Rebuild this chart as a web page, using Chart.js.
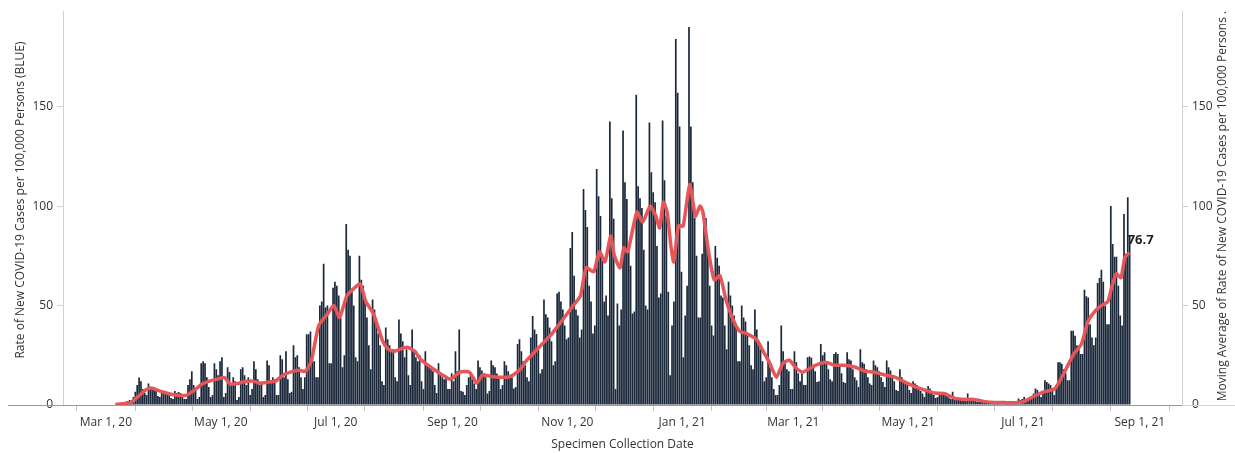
<!DOCTYPE html>
<html>
<head>
<meta charset="utf-8">
<script src="https://cdn.jsdelivr.net/npm/chart.js@4.4.0/dist/chart.umd.min.js"></script>
<style>
  html, body { margin: 0; padding: 0; background: #fff; }
  #wrap { width: 1235px; height: 453px; position: relative; }
</style>
</head>
<body>
<div id="wrap"><canvas id="covidChart" width="1235" height="453"></canvas></div>
<script>
// Day numbers count from Sun Mar 1, 2020 (= day 0)
const tickDays   = [0, 31, 61, 92, 122, 153, 184, 214, 245, 275, 306, 337, 365, 396, 426, 457, 487, 518, 549];
const tickLabels = ['Mar 1, 20', '', 'May 1, 20', '', 'Jul 1, 20', '', 'Sep 1, 20', '', 'Nov 1, 20', '',
                    'Jan 1, 21', '', 'Mar 1, 21', '', 'May 1, 21', '', 'Jul 1, 21', '', 'Sep 1, 21'];
const yTicks = [0, 50, 100, 150];

// Daily rate per 100,000 (bars), one row per week Sun..Sat, from Mar 1, 2020
const dailyRate = [
  0, 0, 0, 0, 0, 0.3, 0.5,
  0.8, 1, 1.2, 1.5, 2, 2.5, 2,
  4, 6.6, 10, 13.8, 12, 8, 6,
  5, 10.8, 8.8, 8, 7.5, 7, 4.5,
  4, 7, 6, 6.5, 6, 6, 3.5,
  3, 7, 6, 6.5, 6, 5.5, 3,
  3, 10, 13, 17, 10, 7, 3,
  4, 21, 22, 21, 14, 9, 4,
  5, 21, 18, 15, 22, 24, 4,
  6, 19, 16.6, 10.8, 14, 12, 2.5,
  4, 18, 19, 15, 10, 14, 5,
  8, 22, 18, 13, 10, 11, 4,
  5, 22.4, 20, 12.4, 14, 13, 5,
  5, 25, 23, 14, 27, 13, 6,
  6.6, 30, 24, 25, 19, 14, 8,
  14, 35.6, 35.6, 37, 25, 22, 14,
  14, 50, 52, 71, 49, 50, 21,
  21, 59, 62, 60, 55, 44, 19,
  25, 91, 78, 75, 57, 50, 24,
  22, 75, 63, 60, 52, 44, 30,
  18, 53, 48, 42, 36, 30, 12,
  10, 39, 33, 30, 27, 28, 14,
  12, 43, 36, 32, 24, 28, 15,
  10, 38, 27, 24, 22, 25, 12,
  8, 27, 21, 19, 18, 17, 10,
  6, 21, 16, 14, 13, 14, 8,
  8, 16, 12, 27, 17, 38, 7,
  6.6, 5, 10, 14, 15, 13, 10.8,
  8, 22.4, 19, 17.4, 16, 14, 5.8,
  7, 22.4, 20, 19, 15.8, 14, 8,
  10, 22, 20, 17, 15, 14, 8.3,
  9, 30.7, 33, 27, 22, 20, 14,
  12, 34, 44.8, 38, 35.7, 28, 15.8,
  18, 53, 45.6, 44, 39, 32, 20,
  22, 56, 57, 52, 48, 40, 33,
  34, 79, 87, 65, 48, 45, 34,
  38, 108.6, 98, 89.5, 60, 52, 36,
  40, 118.6, 105, 95, 76, 52, 55,
  45, 142.6, 104, 93.7, 8, 51, 40,
  48, 138, 112, 103.6, 77, 70, 46,
  47, 156, 110, 104, 99, 78, 50,
  48, 142, 117, 107, 102, 80, 54,
  56, 143, 113, 95, 57, 15, 40,
  52, 184, 157, 140, 67, 24, 45,
  60, 190, 140, 112, 94, 75, 44,
  44, 76, 94, 94, 77, 60, 40,
  35, 80, 74, 70, 55, 54, 40,
  28, 62, 55, 50, 45, 40, 22,
  22, 50, 44, 42, 36, 30, 20,
  18, 48, 38, 32, 28, 22, 12,
  14, 32, 19, 14, 8, 5, 5,
  10, 40, 27, 21, 18, 17, 8,
  8, 27, 21.5, 16, 12, 15.8, 10,
  10, 24, 24.4, 23.7, 20, 17, 11.6,
  12, 30.7, 25, 26.5, 22, 18, 13,
  12, 25.7, 26.5, 25.7, 20, 16, 11.6,
  11, 26.5, 23, 22.4, 18, 14, 12.4,
  9, 28, 21.5, 20.7, 18, 14, 10.8,
  10, 22.4, 20, 19, 17, 14, 11.6,
  9, 22.4, 19, 17.4, 15, 12, 7.5,
  7, 18, 14, 11.6, 12, 10, 7.5,
  6, 12, 10.8, 10, 8, 7, 5.8,
  4, 7.5, 9.5, 8.3, 6, 5, 3.5,
  4, 5.8, 5.8, 5, 5.5, 4.5, 3.8,
  3, 6.6, 3.3, 4, 3.5, 3, 2,
  2, 3, 5.8, 3, 3, 2.5, 2,
  1.5, 2.5, 2, 2, 1.8, 1.5, 1,
  1, 1.8, 1.5, 1.3, 1.2, 1, 0.8,
  1, 2, 1.5, 1.5, 1.2, 1, 0.8,
  1.5, 3.3, 2.5, 3, 4, 3, 2,
  3, 4, 5.8, 8.3, 7.5, 6, 4,
  6, 12.4, 11.6, 10.8, 10, 8, 5,
  10, 21.5, 21.5, 20.7, 18, 16, 12.4,
  12.4, 37.3, 37.3, 34.8, 30, 28, 25.7,
  25.7, 58, 54.7, 54, 40.6, 34, 30,
  34, 61.4, 63.8, 68, 62, 50, 40.6,
  40.6, 100, 81, 74.6, 74.6, 60, 45,
  40, 96, 76, 104.5, 85
];

// Moving average (red line) at these days
const maDays = [
  5, 10, 13, 15, 18, 21, 24, 28, 32, 36, 40, 43, 47, 51, 55, 59, 63, 66, 70, 74,
  78, 82, 86, 90, 94, 98, 102, 106, 109, 113, 117, 121, 124, 128, 131, 135, 138, 142, 147, 150,
  153, 156, 160, 164, 167, 171, 174, 178, 183, 188, 193, 197, 200, 204, 209, 213, 216, 220, 223, 227,
  230, 234, 237, 241, 245, 249, 252, 255, 259, 262, 265, 268, 270, 273, 275, 277, 279, 282, 285, 289,
  292, 294, 296, 298, 300, 301.5, 304, 306.5, 310, 313, 315.5, 317, 320, 323, 326, 329.5, 333, 336.5, 340, 342,
  345.5, 349, 352.5, 356, 359.5, 363, 366, 370, 373, 377, 382, 387, 392, 398, 403, 408, 414, 419, 424, 430,
  435, 440, 445, 451, 456, 461, 467, 472, 477, 483, 488, 493, 498, 504, 509, 514, 518, 521.5, 525, 528.5,
  532, 534, 536.5, 539, 541, 543.6
];
const maValues = [
  0.2, 0.8, 1.2, 2.5, 5, 7.5, 8.5, 7.2, 6, 5.2, 4.8, 5, 7.5, 10.5, 12, 13, 13.8, 10.5, 10.8, 11.8,
  12, 11, 11.5, 12, 15, 16.5, 17.5, 17, 22, 40, 45, 50, 44, 55, 58, 61, 52, 46, 32, 28,
  27, 28, 29, 27, 23, 20, 18, 15.5, 13, 16.5, 16.5, 11, 15, 14.5, 14, 14, 15, 18, 22, 26,
  29, 33, 36, 41, 46, 51, 55, 69, 67, 77, 72, 85, 75, 69, 79, 77, 85, 97, 92, 100,
  95, 89, 102, 97, 80, 72, 90, 90, 111, 95, 100, 97, 77, 63, 65, 52, 43, 37, 36, 35,
  33, 27, 21, 14, 21, 22.5, 19, 16.5, 18, 20, 21.5, 20, 20, 19, 17, 16.5, 15, 14, 11.6, 9,
  7.5, 6, 5.8, 3.3, 2.8, 2.8, 1.7, 1.3, 1.2, 1.1, 2, 4.5, 6.6, 8.3, 16.6, 25.7, 30.6, 42, 47, 50,
  52, 59, 66, 64, 74, 76.7
];

const FONT = "'Open Sans', 'DejaVu Sans', sans-serif";
const BAR_OFFSET = 0.6; // bars sit at midday of their date

const barPoints = dailyRate.map((v, i) => ({ x: i + BAR_OFFSET, y: v }));
const maPoints = maDays.map((d, i) => ({ x: d, y: maValues[i] }));

const overlay = {
  id: 'overlay',
  afterDraw(chart) {
    const ctx = chart.ctx;
    const area = chart.chartArea;
    ctx.save();
    // zero line running past the axes
    ctx.strokeStyle = '#9a9a9a';
    ctx.lineWidth = 1;
    ctx.beginPath();
    ctx.moveTo(8, area.bottom + 0.5);
    ctx.lineTo(area.right, area.bottom + 0.5);
    ctx.stroke();
    ctx.strokeStyle = '#d6d6d6';
    ctx.beginPath();
    ctx.moveTo(area.right, area.bottom + 0.5);
    ctx.lineTo(1235, area.bottom + 0.5);
    ctx.stroke();

    ctx.fillStyle = '#333';
    ctx.font = '12px ' + FONT;
    ctx.textAlign = 'center';
    ctx.textBaseline = 'middle';
    ctx.fillText('Specimen Collection Date', (area.left + area.right) / 2, 445);

    ctx.save();
    ctx.translate(21, 200);
    ctx.rotate(-Math.PI / 2);
    ctx.fillText('Rate of New COVID-19 Cases per 100,000 Persons (BLUE)', 0, 0);
    ctx.restore();

    ctx.save();
    ctx.translate(1223, 206);
    ctx.rotate(-Math.PI / 2);
    ctx.fillText('Moving Average of Rate of New COVID-19 Cases per 100,000 Persons .', 0, 0);
    ctx.restore();

    // end label of the moving average
    const pts = chart.getDatasetMeta(0).data;
    const last = pts[pts.length - 1];
    ctx.font = 'bold 13px ' + FONT;
    ctx.fillStyle = '#222';
    ctx.textAlign = 'left';
    ctx.fillText(String(maValues[maValues.length - 1]), last.x - 2, last.y - 12);
    ctx.restore();
  }
};

const tickFont = { family: FONT, size: 12 };

new Chart(document.getElementById('covidChart'), {
  type: 'bar',
  data: {
    datasets: [
      {
        type: 'line',
        data: maPoints,
        yAxisID: 'y2',
        borderColor: '#e65557',
        borderWidth: 3.5,
        pointRadius: 0,
        tension: 0.2,
        fill: false,
        order: 0
      },
      {
        type: 'bar',
        data: barPoints,
        yAxisID: 'y',
        backgroundColor: '#1a283a',
        borderWidth: 0,
        barPercentage: 0.9,
        categoryPercentage: 1,
        order: 1
      }
    ]
  },
  options: {
    responsive: false,
    animation: false,
    layout: { padding: { top: 7, left: 0, right: 0, bottom: 0 } },
    plugins: { legend: { display: false }, tooltip: { enabled: false } },
    scales: {
      x: {
        type: 'linear',
        min: -22.8,
        max: 571.4,
        offset: false,
        afterFit: s => { s.height = 48; },
        afterBuildTicks: s => { s.ticks = tickDays.map(v => ({ value: v })); },
        ticks: {
          autoSkip: false, maxRotation: 0, padding: 4, color: '#333', font: tickFont,
          callback: (v, i) => tickLabels[i]
        },
        grid: { drawOnChartArea: false, drawTicks: true, tickLength: 6, color: '#c4c4c4' },
        border: { display: false }
      },
      y: {
        position: 'left',
        min: 0,
        max: 198,
        afterFit: s => { s.width = 63; },
        afterBuildTicks: s => { s.ticks = yTicks.map(v => ({ value: v })); },
        ticks: { padding: 4, color: '#333', font: tickFont },
        grid: { drawOnChartArea: false, tickLength: 6, color: '#cfcfcf' },
        border: { color: '#cfcfcf' }
      },
      y2: {
        position: 'right',
        min: 0,
        max: 198,
        afterFit: s => { s.width = 53; },
        afterBuildTicks: s => { s.ticks = yTicks.map(v => ({ value: v })); },
        ticks: { padding: 4, color: '#333', font: tickFont },
        grid: { drawOnChartArea: false, tickLength: 6, color: '#cfcfcf' },
        border: { color: '#cfcfcf' }
      }
    }
  },
  plugins: [overlay]
});
</script>
</body>
</html>
